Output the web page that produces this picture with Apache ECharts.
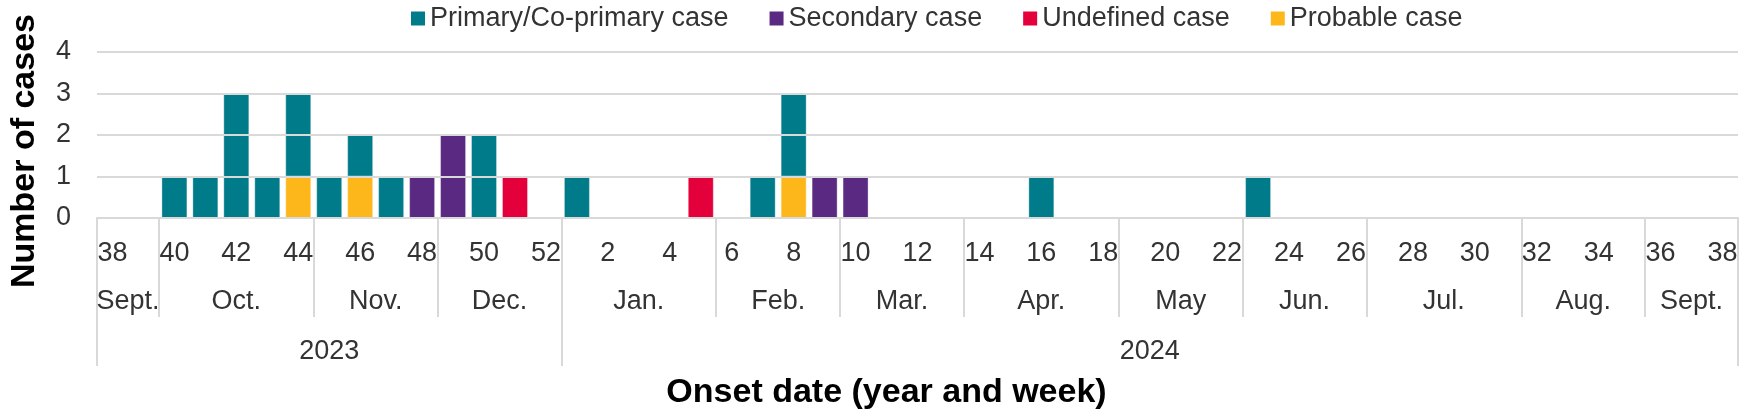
<!DOCTYPE html>
<html>
<head>
<meta charset="utf-8">
<style>
  html, body { margin: 0; padding: 0; background: #ffffff; }
  #chart { width: 1742px; height: 414px; }
</style>
<script src="https://cdn.jsdelivr.net/npm/echarts@6/dist/echarts.min.js"></script>
</head>
<body>
<div id="chart"></div>
<script>
// ---- Data ----
var weekLabels = ['38','39','40','41','42','43','44','45','46','47','48','49','50','51','52',
  '1','2','3','4','5','6','7','8','9','10','11','12','13','14','15','16','17','18','19','20',
  '21','22','23','24','25','26','27','28','29','30','31','32','33','34','35','36','37','38'];

var primaryCases   = [0,0,1,1,3,1,2,1,1,1,0,0,2,0,0,
  1,0,0,0,0,0,1,2,0,0,0,0,0,0,0,1,0,0,0,0,0,0,1,0,0,0,0,0,0,0,0,0,0,0,0,0,0,0];
var secondaryCases = [0,0,0,0,0,0,0,0,0,0,1,2,0,0,0,
  0,0,0,0,0,0,0,0,1,1,0,0,0,0,0,0,0,0,0,0,0,0,0,0,0,0,0,0,0,0,0,0,0,0,0,0,0,0];
var undefinedCases = [0,0,0,0,0,0,0,0,0,0,0,0,0,1,0,
  0,0,0,0,1,0,0,0,0,0,0,0,0,0,0,0,0,0,0,0,0,0,0,0,0,0,0,0,0,0,0,0,0,0,0,0,0,0];
var probableCases  = [0,0,0,0,0,0,1,0,1,0,0,0,0,0,0,
  0,0,0,0,0,0,0,1,0,0,0,0,0,0,0,0,0,0,0,0,0,0,0,0,0,0,0,0,0,0,0,0,0,0,0,0,0,0];

var monthNames      = ['Sept.','Oct.','Nov.','Dec.','Jan.','Feb.','Mar.','Apr.','May','Jun.','Jul.','Aug.','Sept.'];
var monthWeekCounts = [2,5,4,4,5,4,4,5,4,4,5,4,3];
var yearNames       = ['2023','2024'];
var yearWeekCounts  = [15,38];

var yTicks = [0,1,2,3,4];

// ---- Build group boundaries / centres ----
function groups(counts) {
  var bounds = [0], centers = [], acc = 0;
  counts.forEach(function (c) { centers.push(acc + c / 2); acc += c; bounds.push(acc); });
  return { bounds: bounds, centers: centers };
}
var mg = groups(monthWeekCounts);
var yg = groups(yearWeekCounts);
var totalWeeks = weekLabels.length;

function nz(arr) { return arr.map(function (v) { return v === 0 ? '-' : v; }); }

var FONT = 'Liberation Sans, Arial, sans-serif';
var TXT = '#333333';
var GRID = '#d9d9d9';

var colors = {
  primary: '#007b8a',
  secondary: '#5a2a82',
  undef: '#e4003b',
  probable: '#fdb71b'
};

function barSeries(name, data, color) {
  return {
    name: name,
    type: 'bar',
    stack: 'cases',
    xAxisIndex: 0,
    yAxisIndex: 0,
    data: nz(data),
    barCategoryGap: '16%',
    itemStyle: { color: color, borderColor: 'rgba(255,255,255,0.35)', borderWidth: 1 },
    emphasis: { disabled: true }
  };
}

var chart = echarts.init(document.getElementById('chart'), null, { renderer: 'canvas' });

var option = {
  animation: false,
  textStyle: { fontFamily: FONT },
  legend: {
    data: ['Primary/Co-primary case', 'Secondary case', 'Undefined case', 'Probable case'],
    left: 406,
    top: 0,
    icon: 'rect',
    itemWidth: 14,
    itemHeight: 14,
    itemGap: 41,
    itemStyle: { borderWidth: 0 },
    textStyle: { fontSize: 27, color: TXT, fontFamily: FONT }
  },
  grid: { left: 92, right: 4, top: 52, bottom: 196, containLabel: false },
  xAxis: [
    {
      type: 'category',
      data: weekLabels,
      position: 'bottom',
      boundaryGap: true,
      axisLine: { show: true, lineStyle: { color: GRID, width: 2 } },
      axisTick: { show: false },
      axisLabel: { interval: 1, fontSize: 27, color: TXT, margin: 22, fontFamily: FONT },
      splitLine: { show: false },
      name: 'Onset date (year and week)',
      nameLocation: 'middle',
      nameGap: 158,
      nameTextStyle: { fontSize: 34, fontWeight: 'bold', color: '#000', fontFamily: FONT, padding: [0, 62, 0, 0] }
    },
    {
      type: 'value',
      min: 0,
      max: totalWeeks,
      position: 'bottom',
      axisLine: { show: false },
      splitLine: { show: false },
      axisTick: { show: true, customValues: mg.bounds, length: 99, lineStyle: { color: GRID, width: 2 } },
      axisLabel: {
        customValues: mg.centers,
        fontSize: 27, color: TXT, margin: 70, fontFamily: FONT,
        formatter: function (v) { var i = mg.centers.indexOf(v); return i >= 0 ? monthNames[i] : ''; }
      }
    },
    {
      type: 'value',
      min: 0,
      max: totalWeeks,
      position: 'bottom',
      axisLine: { show: false },
      splitLine: { show: false },
      axisTick: { show: true, customValues: yg.bounds, length: 148, lineStyle: { color: GRID, width: 2 } },
      axisLabel: {
        customValues: yg.centers,
        fontSize: 27, color: TXT, margin: 120, fontFamily: FONT,
        formatter: function (v) { var i = yg.centers.indexOf(v); return i >= 0 ? yearNames[i] : ''; }
      }
    }
  ],
  yAxis: {
    type: 'value',
    min: yTicks[0],
    max: yTicks[yTicks.length - 1],
    interval: 1,
    z: 5,
    axisLine: { show: false },
    axisTick: { show: false },
    axisLabel: { fontSize: 27, color: TXT, margin: 26, fontFamily: FONT },
    splitLine: { show: true, lineStyle: { color: GRID, width: 2 } },
    name: 'Number of cases',
    nameLocation: 'middle',
    nameRotate: 90,
    nameGap: 55,
    nameTextStyle: { fontSize: 34, fontWeight: 'bold', color: '#000', fontFamily: FONT, padding: [0, 32, 0, 0] }
  },
  series: [
    barSeries('Probable case', probableCases, colors.probable),
    barSeries('Primary/Co-primary case', primaryCases, colors.primary),
    barSeries('Secondary case', secondaryCases, colors.secondary),
    barSeries('Undefined case', undefinedCases, colors.undef)
  ]
};

chart.setOption(option);
</script>
</body>
</html>
